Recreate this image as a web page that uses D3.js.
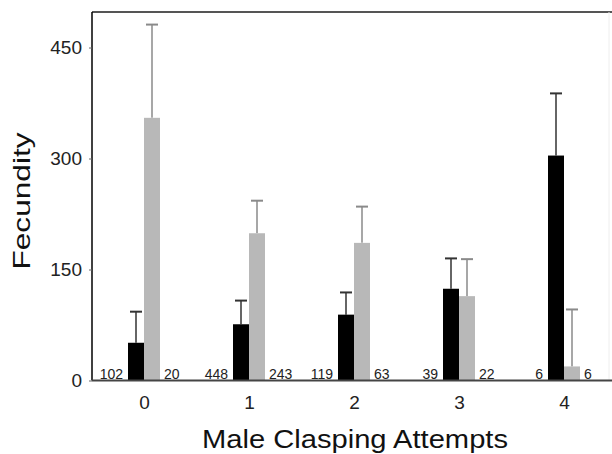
<!DOCTYPE html>
<html>
<head>
<meta charset="utf-8">
<title>Fecundity by male clasping attempts</title>
<script src="https://d3js.org/d3.v7.min.js"></script>
<style>
  body { margin: 0; background: #fff; }
  text { font-family: "Liberation Sans", Arial, sans-serif; }
</style>
</head>
<body>
<svg id="chart" width="612" height="454"></svg>
<script>
// data
var categories = ["0", "1", "2", "3", "4"];
var blackMean = [51, 76, 89, 124, 304];
var blackErr  = [42, 32, 30, 41, 84];
var greyMean  = [355, 199, 186, 114, 19];
var greyErr   = [126, 44, 49, 50, 77];
var blackN    = [102, 448, 119, 39, 6];
var greyN     = [20, 243, 63, 22, 6];
var yTicks    = [0, 150, 300, 450];

var svg = d3.select("#chart");

// plot box edges (note: "top" is reserved on window)
var plotLeft = 92, plotBottom = 380.5, plotTop = 12;
var barW = 16;

var x = d3.scalePoint()
    .domain(categories)
    .range([144, 564]);

var y = d3.scaleLinear()
    .domain([0, 498])
    .range([plotBottom, plotTop]);

// frame top line
svg.append("line")
    .attr("x1", plotLeft).attr("x2", 612)
    .attr("y1", plotTop).attr("y2", plotTop)
    .attr("stroke", "#555").attr("stroke-width", 2);

// faint right edge
svg.append("line")
    .attr("x1", 609).attr("x2", 609)
    .attr("y1", plotTop).attr("y2", plotBottom)
    .attr("stroke", "#eee").attr("stroke-width", 1);

var rows = categories.map(function(c, i) {
  return {cat: c, bm: blackMean[i], be: blackErr[i], gm: greyMean[i], ge: greyErr[i], bn: blackN[i], gn: greyN[i]};
});

var g = svg.append("g");

// error bars (drawn behind bars)
function errBar(cx, mean, err, colour) {
  g.append("line")
    .attr("x1", cx).attr("x2", cx)
    .attr("y1", y(mean)).attr("y2", y(mean + err))
    .attr("stroke", colour).attr("stroke-width", 1.5);
  g.append("line")
    .attr("x1", cx - 6).attr("x2", cx + 6)
    .attr("y1", y(mean + err)).attr("y2", y(mean + err))
    .attr("stroke", colour).attr("stroke-width", 2);
}

rows.forEach(function(d) {
  errBar(x(d.cat) - barW / 2, d.bm, d.be, "#333");
  errBar(x(d.cat) + barW / 2, d.gm, d.ge, "#8a8a8a");
});

g.selectAll(".black")
  .data(rows)
  .enter().append("rect")
    .attr("x", function(d) { return x(d.cat) - barW; })
    .attr("y", function(d) { return y(d.bm); })
    .attr("width", barW)
    .attr("height", function(d) { return plotBottom - y(d.bm); })
    .attr("fill", "#000");

g.selectAll(".grey")
  .data(rows)
  .enter().append("rect")
    .attr("x", function(d) { return x(d.cat); })
    .attr("y", function(d) { return y(d.gm); })
    .attr("width", barW)
    .attr("height", function(d) { return plotBottom - y(d.gm); })
    .attr("fill", "#b8b8b8");

// sample sizes
g.selectAll(".nb")
  .data(rows)
  .enter().append("text")
    .attr("x", function(d) { return x(d.cat) - barW - 5; })
    .attr("y", 379)
    .attr("text-anchor", "end")
    .style("font-size", "14px")
    .attr("fill", "#222")
    .text(function(d) { return d.bn; });

g.selectAll(".ng")
  .data(rows)
  .enter().append("text")
    .attr("x", function(d) { return x(d.cat) + barW + 4; })
    .attr("y", 379)
    .attr("text-anchor", "start")
    .style("font-size", "14px")
    .attr("fill", "#222")
    .text(function(d) { return d.gn; });

// y axis
var yAxis = svg.append("g")
    .attr("transform", "translate(" + plotLeft + ",0)")
    .call(d3.axisLeft(y).tickValues(yTicks).tickSize(3).tickPadding(7));
yAxis.select(".domain").attr("d", "M0," + plotTop + "V" + plotBottom).attr("stroke", "#000").attr("stroke-width", 1.5);
yAxis.selectAll(".tick line").attr("stroke", "#666");
yAxis.selectAll(".tick text")
    .style("font-size", "19px")
    .style("font-family", "'Liberation Sans', Arial, sans-serif")
    .attr("fill", "#222");

// x axis
var xAxis = svg.append("g")
    .attr("transform", "translate(0," + plotBottom + ")")
    .call(d3.axisBottom(x).tickSize(0).tickPadding(15));
xAxis.select(".domain").attr("d", "M" + plotLeft + ",0H612").attr("stroke", "#444").attr("stroke-width", 2);
xAxis.selectAll(".tick text")
    .style("font-size", "19px")
    .style("font-family", "'Liberation Sans', Arial, sans-serif")
    .attr("fill", "#222");

// axis titles
svg.append("text")
    .attr("x", 355)
    .attr("y", 448)
    .attr("text-anchor", "middle")
    .attr("textLength", 306)
    .attr("lengthAdjust", "spacingAndGlyphs")
    .style("font-size", "25px")
    .attr("fill", "#111")
    .text("Male Clasping Attempts");

svg.append("text")
    .attr("transform", "translate(30,201) rotate(-90)")
    .attr("text-anchor", "middle")
    .attr("textLength", 137)
    .attr("lengthAdjust", "spacingAndGlyphs")
    .style("font-size", "24px")
    .attr("fill", "#111")
    .text("Fecundity");
</script>
</body>
</html>
